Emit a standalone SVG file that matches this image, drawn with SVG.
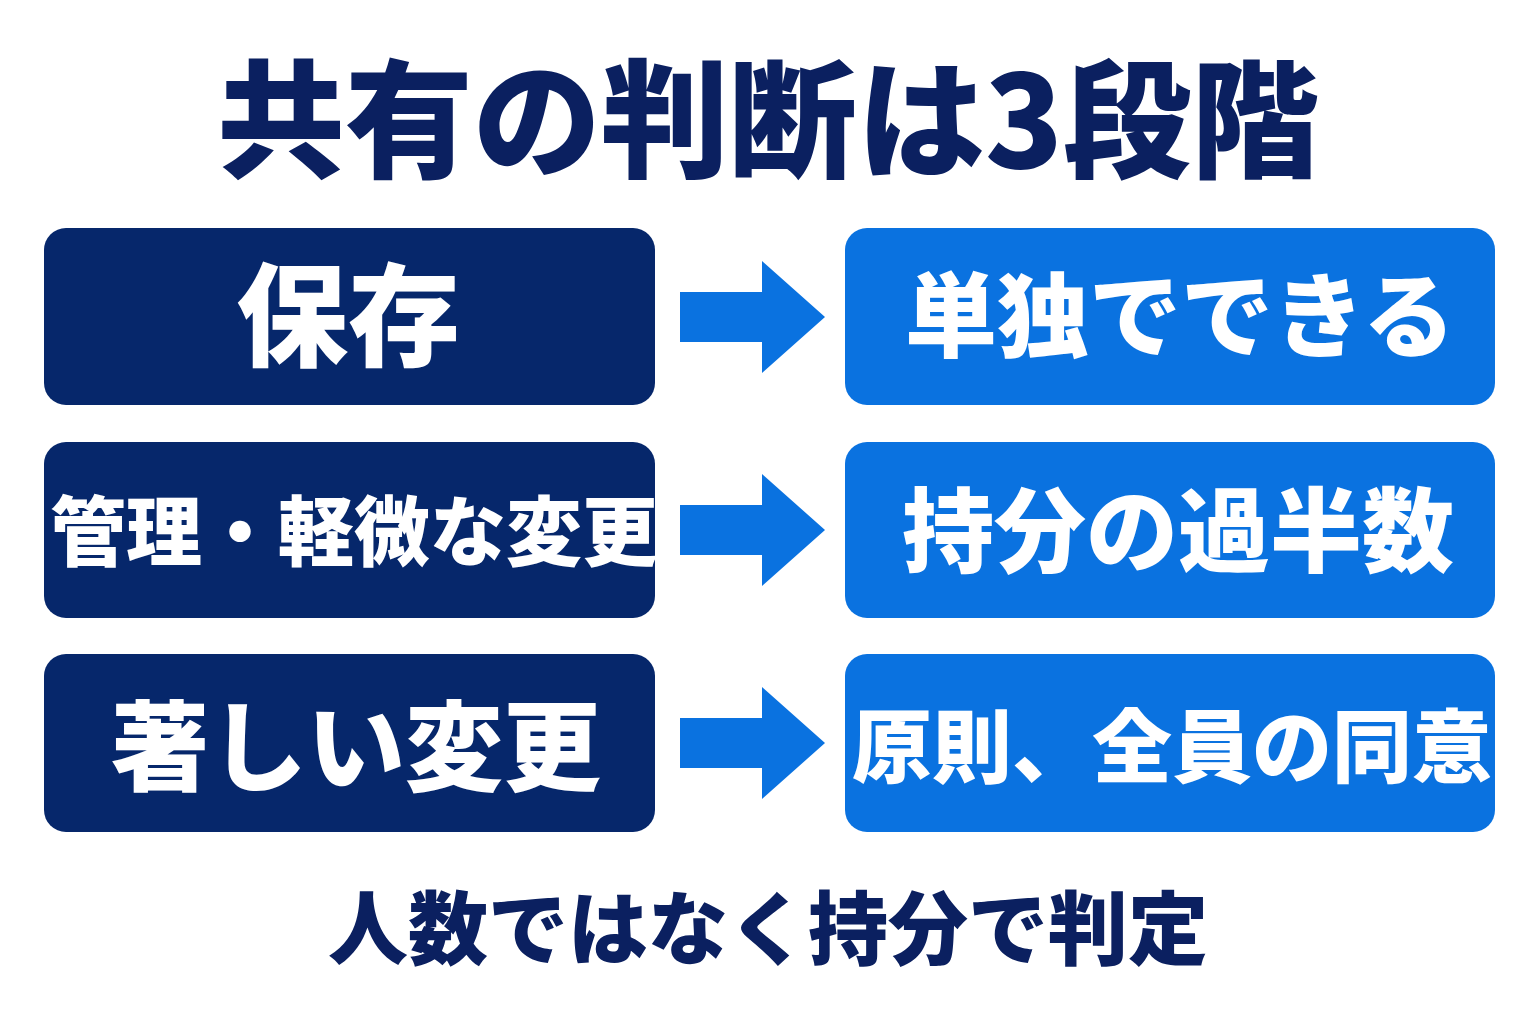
<svg xmlns="http://www.w3.org/2000/svg" width="1536" height="1024" viewBox="0 0 1536 1024">
<style>
text{font-family:"Noto Sans CJK JP","Noto Sans",sans-serif;font-weight:900;text-anchor:middle}
.l{fill:#06276b}.r{fill:#0a72e0}.w{fill:#fff}.a{fill:#0a72e0}
</style>
<defs><path id="arr" d="M680,-25H762V-56L825,0L762,56V25H680Z"/></defs>
<rect width="1536" height="1024" fill="#fff"/>
<text x="768" y="168" font-size="128" fill="#0b2060">共有の判断は3段階</text>
<g id="n1"><rect class="l" x="44" y="228" width="611" height="177" rx="22"/><text class="w" x="348" y="358" font-size="112">保存</text></g>
<g id="n2"><rect class="l" x="44" y="442" width="611" height="176" rx="22"/><text class="w" x="354" y="560" font-size="76">管理・軽微な変更</text></g>
<g id="n3"><rect class="l" x="44" y="654" width="611" height="178" rx="22"/><text class="w" x="356" y="783" font-size="98">著しい変更</text></g>
<g id="n4"><rect class="r" x="845" y="228" width="650" height="177" rx="22"/><text class="w" x="1180" y="350" font-size="92">単独でできる</text></g>
<g id="n5"><rect class="r" x="845" y="442" width="650" height="176" rx="22"/><text class="w" x="1178" y="565" font-size="92">持分の過半数</text></g>
<g id="n6"><rect class="r" x="845" y="654" width="650" height="178" rx="22"/><text class="w" x="1172" y="776" font-size="80">原則、全員の同意</text></g>
<g id="connectors" class="a">
<use href="#arr" y="317"/><use href="#arr" y="530"/><use href="#arr" y="743"/>
</g>
<text x="768" y="958" font-size="80" fill="#0b2060">人数ではなく持分で判定</text>
</svg>
